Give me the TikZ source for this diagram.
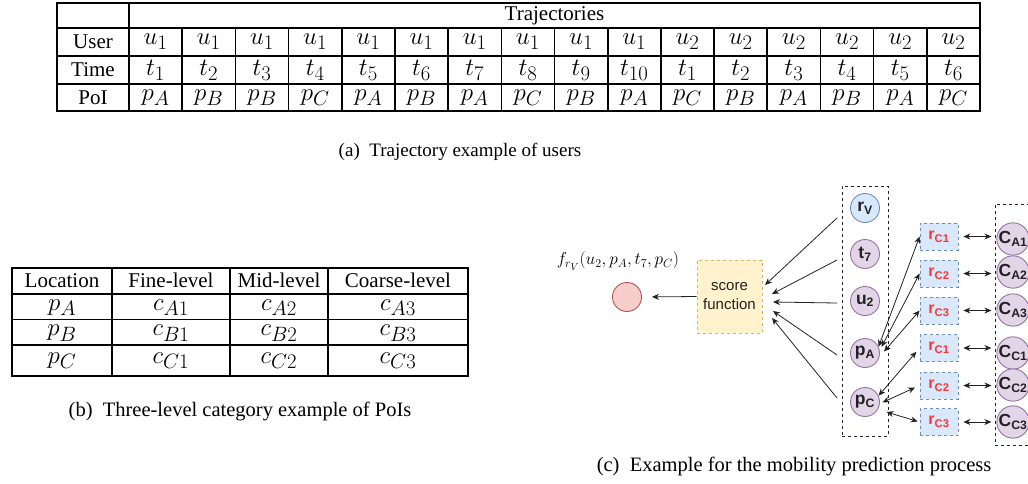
\documentclass[tikz,border=0pt]{standalone}
\usepackage{fontspec}
\setmainfont{Liberation Serif}
\setsansfont{Liberation Sans}
\usetikzlibrary{arrows.meta}
\definecolor{purpF}{HTML}{E1D5E7}
\definecolor{purpD}{HTML}{9673A6}
\definecolor{blueF}{HTML}{DAE8FC}
\definecolor{blueD}{HTML}{6C8EBF}
\definecolor{redF}{HTML}{F8CECC}
\definecolor{redD}{HTML}{B85450}
\definecolor{yelF}{HTML}{FFF2CC}
\definecolor{yelD}{HTML}{D6B656}
\definecolor{redT}{HTML}{FF3333}
\definecolor{ink}{HTML}{222222}
\tikzset{
  tab/.style={line width=1.6pt, line cap=rect},
  cell/.style={font=\fontsize{21}{25}\selectfont, inner sep=0pt},
  mcell/.style={font=\fontsize{24.88}{28}\selectfont, inner sep=0pt},
  bcell/.style={mcell, text height=10.5pt, text depth=5pt},
  captxt/.style={font=\fontsize{20.5}{24}\selectfont, inner sep=0pt},
  lbl/.style={font=\sffamily\bfseries\fontsize{17.5}{19}\selectfont, text=ink},
  pcirc/.style={lbl, circle, minimum size=29pt, inner sep=0pt, line width=0.9pt, draw=purpD, fill=purpF},
  bcirc/.style={pcirc, draw=blueD, fill=blueF},
  rbox/.style={lbl, font=\sffamily\bfseries\fontsize{16}{18}\selectfont, rectangle, minimum width=38pt, minimum height=27pt, inner sep=0pt, draw=blueD, fill=blueF, dashed, line width=0.8pt, text=redT},
  grp/.style={rectangle, draw=ink, dashed, line width=0.8pt, inner sep=0pt},
  arr/.style={-{Stealth[length=7pt,width=6pt]}, line width=0.8pt, draw=ink},
  darr/.style={{Stealth[length=7pt,width=6pt]}-{Stealth[length=7pt,width=6pt]}, line width=0.8pt, draw=ink}
}
\begin{document}
\begin{tikzpicture}[x=1pt,y=-1pt]
\useasboundingbox (0,0) rectangle (1028,483);

% ---------- (a) trajectory table ----------
\draw[tab] (57,3) rectangle (980,111);
\draw[tab] (57,28) -- (980,28);
\draw[tab] (57,56) -- (980,56);
\draw[tab] (57,84) -- (980,84);
\draw[tab] (129,3) -- (129,111);
\foreach \i in {1,...,15} \draw[tab] ({129+53.19*\i},28) -- ({129+53.19*\i},111);
\node[cell] (hdr) at (554.5,15.5) {Trajectories};
\node[cell] (huser) at (93,42) {User};
\node[cell] (htime) at (93,70) {Time};
\node[cell] (hpoi) at (93,97.5) {PoI};
\foreach \u [count=\i] in {1,1,1,1,1,1,1,1,1,1,2,2,2,2,2,2}
  \node[mcell] (usr\i) at ({129+53.19*(\i-0.5)},42) {$u_{\u}$};
\foreach \t [count=\i] in {1,2,3,4,5,6,7,8,9,10,1,2,3,4,5,6}
  \node[mcell] (tim\i) at ({129+53.19*(\i-0.5)},70) {$t_{\t}$};
\foreach \p [count=\i] in {A,B,B,C,A,B,A,C,B,A,C,B,A,B,A,C}
  \node[mcell] (poi\i) at ({129+53.19*(\i-0.5)},97.5) {$p_{\p}$};
\node[captxt, font=\fontsize{19}{23}\selectfont] (capa) at (460,152) {(a)\enspace Trajectory example of users};

% ---------- (b) category table ----------
\draw[tab, line width=2pt] (12,268) rectangle (468,376);
\draw[tab] (12,294) -- (468,294);
\draw[tab] (12,319.5) -- (468,319.5);
\draw[tab] (12,345) -- (468,345);
\draw[tab] (112,268) -- (112,376);
\draw[tab] (230,268) -- (230,376);
\draw[tab] (328,268) -- (328,376);
\node[cell] (bl) at (62,280.5) {Location};
\node[cell] (bf) at (171,280.5) {Fine-level};
\node[cell] (bm) at (279,280.5) {Mid-level};
\node[cell] (bc) at (398,280.5) {Coarse-level};
\foreach \r/\y in {A/307.5,B/333,C/360.5} {
  \node[bcell] (bp\r) at (62,\y) {$p_{\r}$};
  \node[bcell] (bf\r) at (171,\y) {$c_{\r1}$};
  \node[bcell] (bm\r) at (279,\y) {$c_{\r2}$};
  \node[bcell] (bc\r) at (398,\y) {$c_{\r3}$};
}
\node[captxt] (capb) at (240,411) {(b)\enspace Three-level category example of PoIs};

% ---------- (c) mobility prediction ----------
\node[font=\fontsize{17.28}{20}\selectfont, inner sep=0pt] (formula) at (618,261) {$f_{r_V}(u_2, p_A, t_7, p_C)$};
\node[circle, minimum size=29pt, inner sep=0pt, line width=0.9pt, draw=redD, fill=redF] (pred) at (627,297) {};
\node[rectangle, minimum width=65pt, minimum height=73pt, inner sep=0pt, draw=yelD, fill=yelF, dashed, line width=0.8pt,
      align=center, text=ink, font=\sffamily\fontsize{15}{19}\selectfont] (score) at (729.5,296.5) {score\\function};
\draw[arr, shorten >=10pt] (score.west) -- (pred.east);

\node[grp, minimum width=46pt, minimum height=250pt] (grp1) at (865,311) {};
\node[bcirc] (rV) at (865,208) {r\textsubscript{V}};
\node[pcirc] (t7) at (865,254) {t\textsubscript{7}};
\node[pcirc] (u2) at (865,301) {u\textsubscript{2}};
\node[pcirc] (pA) at (865,353) {p\textsubscript{A}};
\node[pcirc] (pC) at (865,402) {p\textsubscript{C}};

\coordinate (s1) at (837,218);
\coordinate (s2) at (837,260);
\coordinate (s3) at (837,303);
\coordinate (s4) at (837,355);
\coordinate (s5) at (837,398);
\coordinate (e1) at (765,285);
\coordinate (e2) at (772,294);
\coordinate (e3) at (773,302);
\coordinate (e4) at (773,311);
\coordinate (e5) at (772,318);
\foreach \k in {1,...,5} \draw[arr] (s\k) -- (e\k);

\foreach \n/\s/\y in {rc1/C1/236.5, rc2/C2/273.5, rc3/C3/310.5, rc4/C1/348, rc5/C2/385.5, rc6/C3/422}
  \node[rbox] (\n) at (939,\y) {r\textsubscript{\s}};

\node[grp, minimum width=50pt, minimum height=241pt] (grp2) at (1020,324.5) {};
\foreach \n/\s/\y in {cA1/A1/239, cA2/A2/272, cA3/A3/310, cC1/C1/353, cC2/C2/385, cC3/C3/422}
  \node[pcirc] (\n) at (1013,\y) {C\textsubscript{\s}};

\foreach \r/\c in {rc1/cA1, rc2/cA2, rc3/cA3, rc4/cC1, rc5/cC2, rc6/cC3}
  \draw[darr, shorten <=5pt, shorten >=5pt] (\r.east) -- (\r.east -| \c.west);

\draw[darr] (pA.25) -- (rc1.west);
\draw[darr, shorten <=4pt] (pA.10) -- (rc2.west);
\draw[darr, shorten <=7pt] (pA.-15) -- (rc3.west);
\draw[darr, shorten >=5pt] (pC.25) -- (rc4.west);
\draw[darr, shorten <=3pt, shorten >=5pt] (pC.-6) -- (rc5.west);
\draw[darr, shorten <=9pt, shorten >=2pt] (pC.-30) -- (rc6.west);

\node[captxt] (capc) at (794,466) {(c)\enspace Example for the mobility prediction process};
\end{tikzpicture}
\end{document}
